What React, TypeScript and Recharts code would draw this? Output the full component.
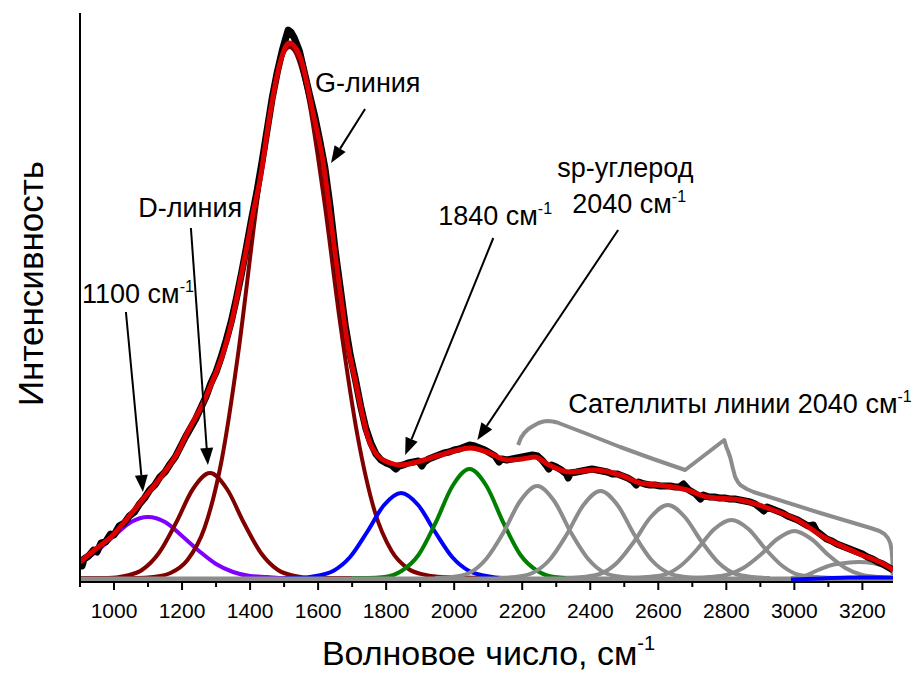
import { Line, LineChart, ReferenceDot, ReferenceLine, XAxis, YAxis } from 'recharts'

// Raman spectrum of a carbon film with its fitted bands.
const FONT = 'Arial, "Liberation Sans", sans-serif'
const W = 912
const H = 673
const GRAY = '#8c8c8c'

type Pt = [number, number]

const xTicks = [900, 1000, 1100, 1200, 1300, 1400, 1500, 1600, 1700, 1800, 1900, 2000, 2100, 2200, 2300, 2400, 2500, 2600, 2700, 2800, 2900, 3000, 3100, 3200]

const spectrum: Pt[] = [
  [900, 20], [906, 12], [912, 19], [925, 22], [940, 28], [950, 26], [962, 35], [975, 36], [990, 44], [1000, 43],
  [1015, 52], [1030, 55], [1045, 62], [1060, 66], [1075, 74], [1090, 80], [1105, 88], [1120, 93], [1135, 101], [1150, 106],
  [1165, 114], [1180, 121], [1195, 131], [1210, 141], [1225, 150], [1240, 159], [1255, 170], [1270, 181], [1285, 195], [1300, 206],
  [1315, 221], [1330, 238], [1345, 257], [1360, 280], [1375, 305], [1390, 332], [1405, 360], [1420, 386], [1435, 416], [1450, 448],
  [1465, 480], [1480, 506], [1495, 528], [1505, 540], [1512, 548], [1520, 546], [1530, 540], [1545, 527], [1560, 505], [1575, 483],
  [1590, 462], [1605, 437], [1620, 410], [1635, 372], [1650, 328], [1665, 290], [1680, 252], [1695, 222], [1710, 198], [1725, 172],
  [1740, 150], [1755, 135], [1770, 124], [1785, 118], [1800, 115], [1815, 113], [1828, 109], [1838, 112], [1850, 113], [1865, 115],
  [1880, 116], [1895, 117], [1905, 112], [1912, 116], [1925, 119], [1940, 121], [1955, 123], [1970, 125], [1985, 126], [2000, 128],
  [2015, 129], [2030, 131], [2045, 133], [2060, 132], [2075, 130], [2090, 128], [2105, 125], [2120, 122], [2132, 116], [2140, 119],
  [2155, 118], [2170, 119], [2185, 120], [2200, 121], [2215, 122], [2230, 123], [2245, 122], [2258, 118], [2270, 113], [2278, 109],
  [2286, 113], [2300, 111], [2315, 108], [2330, 104], [2335, 100], [2342, 105], [2360, 106], [2375, 107], [2390, 108], [2405, 109],
  [2420, 108], [2435, 107], [2450, 106], [2465, 104], [2480, 104], [2495, 102], [2510, 100], [2525, 97], [2535, 93], [2542, 96],
  [2560, 94], [2575, 93], [2590, 93], [2605, 92], [2620, 92], [2635, 92], [2650, 91], [2662, 91], [2674, 94], [2690, 88],
  [2710, 84], [2724, 79], [2732, 83], [2750, 81], [2765, 81], [2780, 80], [2795, 80], [2810, 79], [2825, 79], [2840, 78],
  [2855, 77], [2870, 76], [2885, 74], [2900, 70], [2910, 67], [2920, 71], [2935, 69], [2950, 67], [2965, 65], [2980, 62],
  [2995, 60], [3010, 58], [3025, 55], [3040, 52], [3056, 53], [3065, 47], [3080, 43], [3095, 39], [3110, 37], [3125, 34],
  [3140, 32], [3155, 30], [3170, 28], [3185, 26], [3200, 24], [3215, 21], [3230, 19], [3245, 16], [3260, 14], [3275, 11], [3290, 8],
]

// cumulative fit (red)
const fit: Pt[] = [
  [900, 16], [950, 30], [991, 41], [1040, 60], [1088, 80], [1140, 102], [1188, 126], [1215, 145], [1262, 175], [1291, 198],
  [1321, 225], [1350, 262], [1371, 298], [1390, 330], [1409, 365], [1429, 398], [1459, 465], [1488, 515], [1515, 535], [1547, 521],
  [1585, 465], [1615, 415], [1644, 340], [1665, 285], [1688, 231], [1709, 198], [1729, 165], [1747, 140], [1773, 123], [1812, 115],
  [1841, 113], [1891, 116], [1959, 123], [2000, 127], [2047, 130], [2097, 126], [2156, 118], [2200, 119], [2238, 121], [2274, 114],
  [2341, 106], [2409, 108], [2488, 103], [2547, 95], [2600, 93], [2644, 91], [2685, 88], [2744, 81], [2841, 78], [2938, 68],
  [3009, 58], [3085, 41], [3185, 25], [3282, 10], [3290, 8],
]

const band1100: Pt[] = [
  [900, 14], [950, 27], [1000, 42], [1050, 56], [1100, 61], [1150, 56], [1200, 42], [1250, 27], [1300, 14], [1350, 6],
  [1400, 2], [1450, 1], [1500, 0], [1600, 0],
]
const bandD: Pt[] = [
  [900, 0], [982, 0], [1032, 2], [1082, 8], [1132, 25], [1182, 55], [1232, 89], [1282, 105], [1332, 89], [1382, 55],
  [1432, 25], [1482, 8], [1532, 2], [1582, 0], [1700, 0],
]
const bandG: Pt[] = [
  [900, 0], [1066, 0], [1116, 1], [1166, 5], [1216, 18], [1266, 50], [1316, 117], [1366, 227], [1416, 364], [1466, 483],
  [1516, 531], [1566, 489], [1616, 382], [1666, 252], [1716, 142], [1766, 67], [1816, 27], [1866, 9], [1916, 3], [1966, 1], [2100, 0],
]
const band1840: Pt[] = [
  [1500, 0], [1544, 0], [1594, 2], [1644, 7], [1694, 21], [1744, 46], [1794, 73], [1844, 85], [1894, 73], [1944, 46],
  [1994, 21], [2044, 7], [2094, 2], [2144, 0], [2200, 0],
]
const band2040: Pt[] = [
  [1700, 0], [1745, 0], [1795, 1], [1845, 7], [1895, 23], [1945, 55], [1995, 92], [2045, 109], [2095, 92], [2145, 55],
  [2195, 23], [2245, 7], [2295, 1], [2345, 0], [2400, 0],
]
const sat2240: Pt[] = [
  [1944, 0], [1994, 1], [2044, 5], [2094, 19], [2144, 45], [2194, 77], [2244, 92], [2294, 77], [2344, 45], [2394, 19],
  [2444, 5], [2494, 1], [2544, 0],
]
const sat2430: Pt[] = [
  [2130, 0], [2180, 1], [2230, 5], [2280, 18], [2330, 43], [2380, 73], [2430, 87], [2480, 73], [2530, 43], [2580, 18],
  [2630, 5], [2680, 1], [2730, 0],
]
const sat2630: Pt[] = [
  [2328, 0], [2378, 1], [2428, 4], [2478, 15], [2528, 36], [2578, 61], [2628, 73], [2678, 61], [2728, 36], [2778, 15],
  [2828, 4], [2878, 1], [2928, 0],
]
const sat2815: Pt[] = [
  [2515, 0], [2565, 1], [2615, 3], [2665, 12], [2715, 29], [2765, 49], [2815, 58], [2865, 49], [2915, 29], [2965, 12],
  [3015, 3], [3065, 1], [3115, 0],
]
const sat3000: Pt[] = [
  [2700, 0], [2750, 1], [2800, 3], [2850, 10], [2900, 23], [2950, 39], [3000, 47], [3050, 39], [3100, 23], [3150, 10],
  [3200, 3], [3250, 1], [3290, 0],
]
const sat3180: Pt[] = [
  [2990, 0], [3030, 2], [3070, 8], [3110, 13], [3150, 15], [3190, 16], [3230, 15], [3260, 12], [3290, 7],
]
// hand-drawn outline over the satellite bands
const satOutline: Pt[] = [
  [2188, 133], [2196, 140], [2206, 145], [2218, 149], [2232, 152], [2248, 155], [2262, 156.5], [2274, 157], [2290, 156.5], [2303, 155.5],
  [2391, 144], [2488, 131], [2585, 119], [2679, 108], [2794, 138], [2800, 131], [2806, 126], [2812, 120], [2819, 110], [2826, 101],
  [2834, 96], [2841, 93], [2860, 89], [2880, 86], [3076, 65], [3224, 50], [3250, 47], [3265, 44], [3275, 40], [3282, 35],
  [3286, 28], [3288, 18], [3289, 3],
]
const tailBlue: Pt[] = [[2990, -1.5], [3080, -0.5], [3160, 0.5], [3290, 0.5]]
const zeroLine: Pt[] = [[900, -1], [3290, -1]]

// annotations, in data coordinates
const notes = [
  { x: 906, y: 275, text: '1100 см', sup: '-1' },
  { x: 1071, y: 361, text: 'D-линия' },
  { x: 1591, y: 486, text: 'G-линия' },
  { x: 1953, y: 353, text: '1840 см', sup: '-1' },
  { x: 2303, y: 401, text: 'sp-углерод' },
  { x: 2347, y: 365, text: '2040 см', sup: '-1' },
  { x: 2335, y: 165, text: 'Сателлиты линии 2040 см', sup: '-1' },
]
const arrows: { from: Pt; to: Pt }[] = [
  { from: [1035, 266], to: [1085, 86] },
  { from: [1226, 350], to: [1276, 113] },
  { from: [1738, 469], to: [1638, 415] },
  { from: [2115, 340], to: [1856, 123] },
  { from: [2482, 348], to: [2068, 138] },
]

const rows = (pts: Pt[]) => pts.map(([x, y]) => ({ x, y }))

function Arrow(p: any) {
  const { x1, y1, x2, y2 } = p
  const a = Math.atan2(y2 - y1, x2 - x1)
  const len = 17
  const half = 6.5
  const bx = x2 - len * Math.cos(a)
  const by = y2 - len * Math.sin(a)
  const nx = -Math.sin(a) * half
  const ny = Math.cos(a) * half
  return (
    <g>
      <line x1={x1} y1={y1} x2={bx} y2={by} stroke="#000" strokeWidth={2} />
      <polygon points={`${x2},${y2} ${bx + nx},${by + ny} ${bx - nx},${by - ny}`} fill="#000" />
    </g>
  )
}

function Note({ cx, cy, text, sup }: { cx: number; cy: number; text: string; sup?: string }) {
  return (
    <text x={cx} y={cy} fontFamily={FONT} fontSize={27} fill="#000">
      {text}
      {sup && (
        <tspan dy={-11} fontSize={16}>
          {sup}
        </tspan>
      )}
    </text>
  )
}

function XTick(p: any) {
  const { x, y, payload } = p
  const v = payload.value
  const major = v % 200 === 0
  return (
    <g>
      <line x1={x} x2={x} y1={y} y2={y + (major ? 8 : 5)} stroke="#000" strokeWidth={2} />
      {major && (
        <text x={x} y={y + 36} textAnchor="middle" fontFamily={FONT} fontSize={21} fill="#000">
          {v}
        </text>
      )}
    </g>
  )
}

function XTitle(p: any) {
  const vb = p.viewBox
  return (
    <text x={vb.x + vb.width / 2 + 2} y={vb.y + 83} textAnchor="middle" fontFamily={FONT} fontSize={34} fill="#000">
      Волновое число, см
      <tspan dy={-15} fontSize={20}>
        -1
      </tspan>
    </text>
  )
}

function YTitle(p: any) {
  const vb = p.viewBox
  const cx = vb.x + 43
  const cy = vb.y + vb.height / 2 - 14
  return (
    <text x={cx} y={cy} transform={`rotate(-90 ${cx} ${cy})`} textAnchor="middle" fontFamily={FONT} fontSize={35} fill="#000">
      Интенсивность
    </text>
  )
}

const series: { pts: Pt[]; color: string; width: number; type: 'monotone' | 'linear' }[] = [
  { pts: band1100, color: '#8000ff', width: 4, type: 'monotone' },
  { pts: bandD, color: '#800000', width: 4, type: 'monotone' },
  { pts: bandG, color: '#800000', width: 4, type: 'monotone' },
  { pts: band1840, color: '#0000ff', width: 4, type: 'monotone' },
  { pts: band2040, color: '#008000', width: 4, type: 'monotone' },
  { pts: sat2240, color: GRAY, width: 4, type: 'monotone' },
  { pts: sat2430, color: GRAY, width: 4, type: 'monotone' },
  { pts: sat2630, color: GRAY, width: 4, type: 'monotone' },
  { pts: sat2815, color: GRAY, width: 4, type: 'monotone' },
  { pts: sat3000, color: GRAY, width: 4, type: 'monotone' },
  { pts: sat3180, color: GRAY, width: 4, type: 'monotone' },
  { pts: zeroLine, color: GRAY, width: 5, type: 'linear' },
  { pts: tailBlue, color: '#0000ff', width: 4, type: 'monotone' },
  { pts: satOutline, color: GRAY, width: 4, type: 'linear' },
  { pts: spectrum, color: '#000000', width: 7, type: 'linear' },
  { pts: fit, color: '#dd0000', width: 5, type: 'monotone' },
]

export default function App() {
  return (
    <div style={{ position: 'fixed', left: 0, top: 0, width: W, height: H, background: '#fff' }}>
      <LineChart width={W} height={H} margin={{ top: 13, right: 19, bottom: 0, left: 0 }}>
        <XAxis
          type="number"
          dataKey="x"
          domain={[900, 3290]}
          allowDataOverflow
          ticks={xTicks}
          interval={0}
          tick={<XTick />}
          tickLine={false}
          tickSize={0}
          tickMargin={0}
          height={91}
          axisLine={{ stroke: '#000', strokeWidth: 2 }}
          label={<XTitle />}
        />
        <YAxis
          type="number"
          dataKey="y"
          domain={[-4, 565]}
          allowDataOverflow
          width={80}
          tick={false}
          tickLine={false}
          axisLine={{ stroke: '#000', strokeWidth: 2 }}
          label={<YTitle />}
        />
        {series.map((s, i) => (
          <Line
            key={i}
            data={rows(s.pts)}
            dataKey="y"
            type={s.type}
            stroke={s.color}
            strokeWidth={s.width}
            strokeLinejoin="round"
            dot={false}
            activeDot={false}
            isAnimationActive={false}
          />
        ))}
        {arrows.map((a, i) => (
          <ReferenceLine
            key={'a' + i}
            segment={[{ x: a.from[0], y: a.from[1] }, { x: a.to[0], y: a.to[1] }]}
            ifOverflow="visible"
            shape={(p: any) => <Arrow {...p} />}
          />
        ))}
        {notes.map((n, i) => (
          <ReferenceDot
            key={'n' + i}
            x={n.x}
            y={n.y}
            r={0}
            ifOverflow="visible"
            shape={(p: any) => <Note cx={p.cx} cy={p.cy} text={n.text} sup={n.sup} />}
          />
        ))}
      </LineChart>
    </div>
  )
}
